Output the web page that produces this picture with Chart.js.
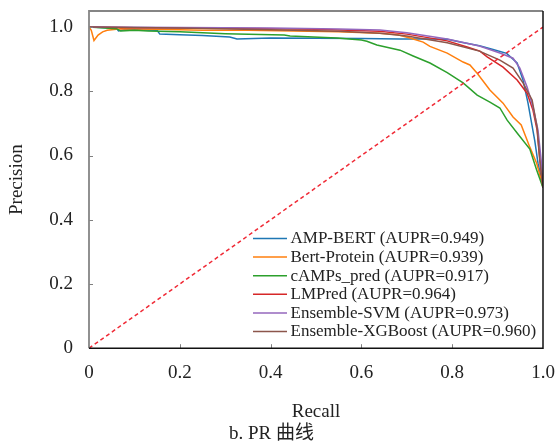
<!DOCTYPE html>
<html><head><meta charset="utf-8">
<script src="https://cdn.jsdelivr.net/npm/chart.js@4/dist/chart.umd.min.js"></script>
<style>html,body{margin:0;padding:0;background:#fff}#wrap{width:556px;height:443px}</style>
</head><body><div id="wrap"><canvas id="c" width="556" height="443"></canvas></div>
<script>
// ---- data ----
const modelNames = ['AMP-BERT', 'Bert-Protein', 'cAMPs_pred', 'LMPred', 'Ensemble-SVM', 'Ensemble-XGBoost'];
const auprValues = ['0.949', '0.939', '0.917', '0.964', '0.973', '0.960'];

const recallAmpBert    = [0, 0.06, 0.065, 0.08, 0.15, 0.156, 0.2, 0.25, 0.31, 0.326, 0.4, 0.5, 0.6, 0.685, 0.75, 0.789, 0.82, 0.86, 0.89, 0.92, 0.943, 0.956, 0.967, 0.975, 0.982, 0.989, 0.996, 1.0];
const precisionAmpBert = [1.0, 0.997, 0.988, 0.992, 0.99, 0.978, 0.976, 0.974, 0.969, 0.963, 0.966, 0.965, 0.964, 0.963, 0.963, 0.962, 0.953, 0.942, 0.93, 0.918, 0.888, 0.835, 0.763, 0.70, 0.645, 0.576, 0.53, 0.50];

const recallBertProtein    = [0, 0.005, 0.011, 0.02, 0.03, 0.04, 0.07, 0.15, 0.25, 0.35, 0.45, 0.55, 0.64, 0.68, 0.707, 0.736, 0.751, 0.789, 0.824, 0.839, 0.855, 0.883, 0.912, 0.934, 0.952, 0.971, 0.986, 0.995, 1.0];
const precisionBertProtein = [1.0, 0.99, 0.958, 0.975, 0.985, 0.99, 0.995, 0.993, 0.99, 0.99, 0.988, 0.985, 0.981, 0.976, 0.966, 0.953, 0.940, 0.919, 0.891, 0.882, 0.856, 0.804, 0.763, 0.72, 0.695, 0.626, 0.576, 0.53, 0.50];

const recallCampsPred    = [0, 0.06, 0.07, 0.1, 0.13, 0.2, 0.3, 0.43, 0.443, 0.546, 0.6, 0.612, 0.634, 0.685, 0.714, 0.751, 0.789, 0.824, 0.855, 0.883, 0.905, 0.921, 0.943, 0.971, 0.986, 1.0];
const precisionCampsPred = [1.0, 0.995, 0.988, 0.99, 0.988, 0.985, 0.979, 0.975, 0.972, 0.966, 0.96, 0.956, 0.944, 0.928, 0.910, 0.888, 0.858, 0.826, 0.788, 0.766, 0.748, 0.71, 0.67, 0.62, 0.555, 0.50];

const recallLmpred    = [0, 0.1, 0.3, 0.5, 0.64, 0.7, 0.789, 0.833, 0.861, 0.877, 0.912, 0.943, 0.965, 0.978, 0.987, 0.993, 1.0];
const precisionLmpred = [1.0, 0.998, 0.996, 0.993, 0.987, 0.978, 0.957, 0.938, 0.925, 0.907, 0.875, 0.835, 0.794, 0.741, 0.679, 0.586, 0.50];

const recallEnsSvm    = [0, 0.2, 0.4, 0.55, 0.641, 0.7, 0.789, 0.86, 0.905, 0.934, 0.949, 0.965, 0.978, 0.989, 0.996, 1.0];
const precisionEnsSvm = [1.0, 0.999, 0.997, 0.994, 0.991, 0.982, 0.963, 0.941, 0.919, 0.903, 0.872, 0.813, 0.751, 0.679, 0.586, 0.50];

const recallEnsXgb    = [0, 0.2, 0.4, 0.55, 0.641, 0.7, 0.789, 0.86, 0.905, 0.934, 0.956, 0.976, 0.987, 0.993, 1.0];
const precisionEnsXgb = [1.0, 0.997, 0.992, 0.987, 0.981, 0.972, 0.951, 0.925, 0.897, 0.872, 0.826, 0.773, 0.688, 0.586, 0.50];

const baselineRecall    = [0, 1];
const baselinePrecision = [0, 1];

const xTicks = [0, 0.2, 0.4, 0.6, 0.8, 1.0];
const yTicks = [0, 0.2, 0.4, 0.6, 0.8, 1.0];

// ---- styles ----
const seriesColors = ['#1f77b4', '#ff7f0e', '#2ca02c', '#d62728', '#9467bd', '#8c564b'];
const FONT = '"Liberation Serif", "Times New Roman", "Noto Sans CJK SC", serif';
const TEXT = '#222';

const toPoints = (xs, ys) => xs.map((x, i) => ({x, y: ys[i]}));
const seriesRecall = [recallAmpBert, recallBertProtein, recallCampsPred, recallLmpred, recallEnsSvm, recallEnsXgb];
const seriesPrecision = [precisionAmpBert, precisionBertProtein, precisionCampsPred, precisionLmpred, precisionEnsSvm, precisionEnsXgb];

const datasets = modelNames.map((n, i) => ({
  label: `${n} (AUPR=${auprValues[i]})`,
  data: toPoints(seriesRecall[i], seriesPrecision[i]),
  borderColor: seriesColors[i],
  backgroundColor: seriesColors[i],
  borderWidth: 1.5,
  showLine: true,
  pointRadius: 0,
  tension: 0,
  order: 10 - i
}));
datasets.push({
  label: 'baseline',
  data: toPoints(baselineRecall, baselinePrecision),
  borderColor: '#f02a36',
  borderWidth: 1.5,
  borderDash: [4, 3],
  showLine: true,
  pointRadius: 0,
  order: 0
});

const framePlugin = {
  id: 'frame',
  afterDatasetsDraw(chart) {
    const {ctx, chartArea: a, scales} = chart;
    ctx.save();
    ctx.strokeStyle = '#808080';
    ctx.lineWidth = 1;
    xTicks.forEach(v => {
      if (v === 0 || v === 1) return;
      const px = Math.round(scales.x.getPixelForValue(v)) + 0.5;
      ctx.beginPath(); ctx.moveTo(px, a.bottom); ctx.lineTo(px, a.bottom - 4); ctx.stroke();
    });
    yTicks.forEach(v => {
      if (v === 0) return;
      const py = Math.round(scales.y.getPixelForValue(v)) + 0.5;
      ctx.beginPath(); ctx.moveTo(a.left, py); ctx.lineTo(a.left + 4, py); ctx.stroke();
    });
    ctx.lineWidth = 1.8;
    ctx.strokeStyle = '#858585';
    ctx.beginPath(); ctx.moveTo(a.left, a.bottom); ctx.lineTo(a.left, a.top); ctx.lineTo(a.right, a.top); ctx.stroke();
    ctx.strokeStyle = '#111';
    ctx.lineWidth = 1.5;
    ctx.beginPath(); ctx.moveTo(a.left, a.bottom); ctx.lineTo(a.right, a.bottom); ctx.lineTo(a.right, a.top); ctx.stroke();
    ctx.restore();
  },
  afterDraw(chart) {
    const {ctx, chartArea: a} = chart;
    ctx.save();
    ctx.font = '17px ' + FONT;
    ctx.textBaseline = 'middle';
    ctx.textAlign = 'left';
    chart.data.datasets.slice(0, modelNames.length).forEach((ds, i) => {
      const y = a.top + 227.5 + i * 18.6;
      ctx.strokeStyle = ds.borderColor;
      ctx.lineWidth = 1.5;
      ctx.beginPath(); ctx.moveTo(a.left + 164, y); ctx.lineTo(a.left + 198, y); ctx.stroke();
      ctx.fillStyle = TEXT;
      ctx.fillText(ds.label, a.left + 201.5, y + 0.5);
    });
    ctx.restore();
  }
};

new Chart(document.getElementById('c'), {
  type: 'scatter',
  data: {datasets},
  plugins: [framePlugin],
  options: {
    responsive: false,
    animation: false,
    devicePixelRatio: 1,
    layout: {padding: {left: 0, right: 13, top: 11, bottom: 0}},
    plugins: {
      legend: {display: false},
      tooltip: {enabled: false},
      title: {
        display: true,
        text: 'b. PR 曲线',
        position: 'bottom',
        color: TEXT,
        font: {family: FONT, size: 19, weight: 'normal', lineHeight: 1.2},
        padding: {top: 2, bottom: -2}
      }
    },
    scales: {
      x: {
        type: 'linear',
        min: 0, max: 1,
        afterBuildTicks: s => { s.ticks = xTicks.map(v => ({value: v})); },
        afterFit: s => { s.height = 72; s.paddingLeft = 0; s.paddingRight = 0; },
        grid: {display: false, drawTicks: false},
        border: {display: false},
        ticks: {
          color: TEXT,
          font: {family: FONT, size: 19},
          padding: 13,
          maxRotation: 0,
          callback: v => v === 0 ? '0' : v.toFixed(1)
        },
        title: {display: true, text: 'Recall', color: TEXT, font: {family: FONT, size: 19}, padding: {top: 0, bottom: -3}}
      },
      y: {
        type: 'linear',
        min: 0, max: 1.05,
        afterBuildTicks: s => { s.ticks = yTicks.map(v => ({value: v})); },
        afterFit: s => { s.width = 89; s.paddingTop = 0; s.paddingBottom = 0; },
        grid: {display: false, drawTicks: false},
        border: {display: false},
        ticks: {
          color: TEXT,
          font: {family: FONT, size: 19},
          padding: 16,
          callback: v => v === 0 ? '0' : v.toFixed(1)
        },
        title: {display: true, text: 'Precision', color: TEXT, font: {family: FONT, size: 19}, padding: {top: 6, bottom: 0}}
      }
    }
  }
});
</script>
</body></html>
